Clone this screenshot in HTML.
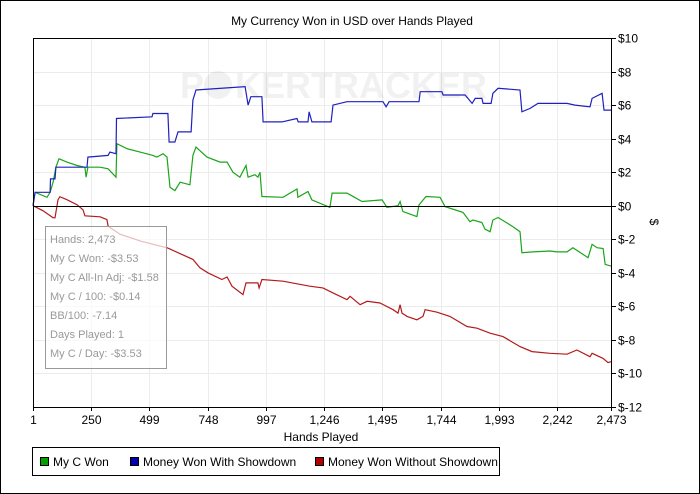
<!DOCTYPE html>
<html><head><meta charset="utf-8"><style>
body{margin:0;background:#fff}
svg{display:block;font-family:"Liberation Sans",sans-serif}
</style></head><body>
<svg id="c" width="700" height="494" xmlns="http://www.w3.org/2000/svg">
<rect x="0.5" y="0.5" width="699" height="493" fill="#fff" stroke="#000"/>
<text x="352" y="25" font-size="12" text-anchor="middle">My Currency Won in USD over Hands Played</text>
<g id="grid"></g>
<g opacity="0.05">
<text x="180" y="98" font-size="36" font-weight="bold" fill="#000">P</text>
<circle cx="218" cy="85" r="14" fill="#000"/>
<text x="235" y="98" font-size="36" font-weight="bold" fill="#000">KERTRACKER</text>
</g>
<g id="series"></g>
<g id="axes"></g>
<text transform="translate(650,222) rotate(90)" font-size="12" text-anchor="middle">$</text>
<text x="321" y="441" font-size="12" text-anchor="middle">Hands Played</text>
<g font-size="11" fill="#999">
<rect x="45.5" y="226.5" width="121" height="142" fill="#fff" fill-opacity="0.7" stroke="#999"/>
<text x="50" y="243">Hands: 2,473</text>
<text x="50" y="262">My C Won: -$3.53</text>
<text x="50" y="281">My C All-In Adj: -$1.58</text>
<text x="50" y="300">My C / 100: -$0.14</text>
<text x="50" y="319">BB/100: -7.14</text>
<text x="50" y="338">Days Played: 1</text>
<text x="50" y="357">My C / Day: -$3.53</text>
</g>
<g font-size="12">
<rect x="32.5" y="447.5" width="467" height="28" fill="#fff" stroke="#000"/>
<g><rect x="40.5" y="457.5" width="8" height="8" fill="#00a000" stroke="#000"/><text x="53" y="466">My C Won</text></g>
<g><rect x="130.5" y="457.5" width="8" height="8" fill="#0000b0" stroke="#000"/><text x="143" y="466">Money Won With Showdown</text></g>
<g><rect x="315.5" y="457.5" width="8" height="8" fill="#b00000" stroke="#000"/><text x="328" y="466">Money Won Without Showdown</text></g>
</g>
</svg>
<script>
const xTicks=[1,250,499,748,997,1246,1495,1744,1993,2242,2473];
const xTickLabels=["1","250","499","748","997","1,246","1,495","1,744","1,993","2,242","2,473"];
const yTicks=[10,8,6,4,2,0,-2,-4,-6,-8,-10,-12];
const yTickLabels=["$10","$8","$6","$4","$2","$0","$-2","$-4","$-6","$-8","$-10","$-12"];
const blueHands=[1,10,74,76,95,99,232,236,322,330,356,358,510,514,578,583,608,621,677,685,698,908,921,933,980,985,1066,1130,1135,1177,1182,1194,1276,1284,1344,1498,1511,1524,1652,1657,1750,1755,1849,1879,1892,1921,1926,1960,1968,1990,2084,2092,2127,2161,2285,2319,2383,2392,2435,2443,2473];
const blueValues=[0,0.8,0.8,1.6,1.6,2.3,2.3,2.9,3.0,3.2,3.1,5.2,5.3,5.5,5.5,3.8,3.8,4.4,4.4,6.3,6.9,7.1,6.0,6.5,6.5,5.0,5.0,5.2,5.0,5.0,5.6,5.0,5.0,6.0,6.2,6.2,5.9,6.2,6.2,6.8,6.8,6.6,6.6,6.1,6.4,6.4,6.1,6.1,6.7,7.0,6.9,5.6,5.8,6.1,6.1,6.0,5.9,6.4,6.7,5.7,5.7];
const greenHands=[1,10,61,74,87,99,112,146,189,223,228,236,288,322,356,360,403,459,514,531,557,574,587,608,630,672,685,698,745,801,831,856,886,912,921,950,963,972,980,1070,1130,1134,1177,1194,1271,1280,1344,1357,1408,1494,1515,1562,1571,1583,1643,1652,1682,1742,1763,1840,1870,1883,1921,1934,1956,1968,1990,2054,2084,2092,2140,2212,2242,2285,2310,2375,2392,2413,2439,2448,2473];
const greenValues=[0,0.8,0.5,0.8,1.4,2.3,2.8,2.6,2.4,2.3,1.7,2.3,2.3,2.2,1.7,3.7,3.4,3.2,3.0,2.9,3.1,2.9,1.1,0.9,1.4,1.25,3.0,3.5,2.9,2.6,2.6,2.0,1.7,2.4,1.7,1.85,1.7,2.0,0.55,0.5,1.0,0.5,0.85,0.35,-0.1,0.75,0.75,0.65,0.25,0.35,-0.1,0.0,0.25,-0.35,-0.65,0.05,0.55,0.5,-0.05,-0.4,-0.95,-0.85,-1.0,-1.4,-1.55,-0.85,-0.7,-1.25,-1.55,-2.8,-2.75,-2.7,-2.75,-2.75,-2.5,-3.1,-2.3,-2.5,-2.55,-3.5,-3.6];
const redHands=[1,18,44,87,95,108,116,146,189,215,223,288,317,322,330,373,459,557,574,685,715,749,809,831,852,899,912,963,968,980,1070,1185,1241,1284,1344,1357,1400,1430,1485,1541,1562,1571,1579,1601,1643,1669,1678,1729,1784,1857,1900,1956,2011,2084,2135,2212,2285,2327,2383,2392,2439,2460,2473];
const redValues=[0,-0.12,-0.3,-0.72,-0.72,0.36,0.54,0.36,0.06,-0.24,-0.6,-0.66,-0.83,-1.2,-1.3,-1.7,-2.1,-2.45,-2.5,-3.2,-3.7,-4.0,-4.4,-4.25,-4.8,-5.3,-4.6,-4.6,-4.9,-4.4,-4.5,-4.8,-4.9,-5.2,-5.6,-5.4,-5.9,-5.7,-5.8,-6.2,-6.4,-5.9,-6.4,-6.6,-6.8,-6.6,-6.2,-6.35,-6.6,-7.2,-7.3,-7.6,-7.8,-8.4,-8.7,-8.8,-8.85,-8.6,-9.0,-8.8,-9.1,-9.35,-9.3];
const NS="http://www.w3.org/2000/svg";
const L=33,R=611,T=38,B=407,XMIN=1,XMAX=2473,YMIN=-12,YMAX=10;
function xs(h){return L+(h-XMIN)/(XMAX-XMIN)*(R-L);}
function ys(v){return T+(YMAX-v)/(YMAX-YMIN)*(B-T);}
function mk(tag,parent,attrs){const e=document.createElementNS(NS,tag);for(const k in attrs)e.setAttribute(k,attrs[k]);parent.appendChild(e);return e;}
const grid=document.getElementById('grid'),axes=document.getElementById('axes'),series=document.getElementById('series');
xTicks.forEach((t,i)=>{
 const x=Math.round(xs(t))+0.5;
 const g=mk('line',grid,{x1:x,x2:x,y1:T,y2:B,stroke:'#ececec'});
 
 
 const tk=mk('line',axes,{x1:x,x2:x,y1:B,y2:B+4,stroke:'#000'});
 
 
 const lb=mk('text',axes,{x:x,y:B+17,'font-size':12,'text-anchor':'middle'});
 lb.textContent=xTickLabels[i];
 
 
});
yTicks.forEach((t,i)=>{
 const y=Math.round(ys(t))+0.5;
 const g=mk('line',grid,{x1:L,x2:R,y1:y,y2:y,stroke:'#ececec'});
 
 
 const tk=mk('line',axes,{x1:R,x2:R+5,y1:y,y2:y,stroke:'#000'});
 
 
 const lb=mk('text',axes,{x:R+7,y:y+4,'font-size':12});
 lb.textContent=yTickLabels[i];
 
 
});
const fr=mk('rect',axes,{x:L+0.5,y:T+0.5,width:R-L,height:B-T,fill:'none',stroke:'#000'});


const zl=mk('line',axes,{x1:L,x2:R,y1:Math.round(ys(0))+0.5,y2:Math.round(ys(0))+0.5,stroke:'#000'});


function line(h,v,col,name){
 const p=mk('polyline',series,{points:h.map((hh,i)=>xs(hh).toFixed(1)+','+ys(v[i]).toFixed(1)).join(' '),fill:'none',stroke:col,'stroke-width':1.2});
 
 
}
line(greenHands,greenValues,'#1aa51a','my-c-won-line');
line(blueHands,blueValues,'#2020c0','with-showdown-line');
line(redHands,redValues,'#b41a1a','without-showdown-line');
</script>
</body></html>
